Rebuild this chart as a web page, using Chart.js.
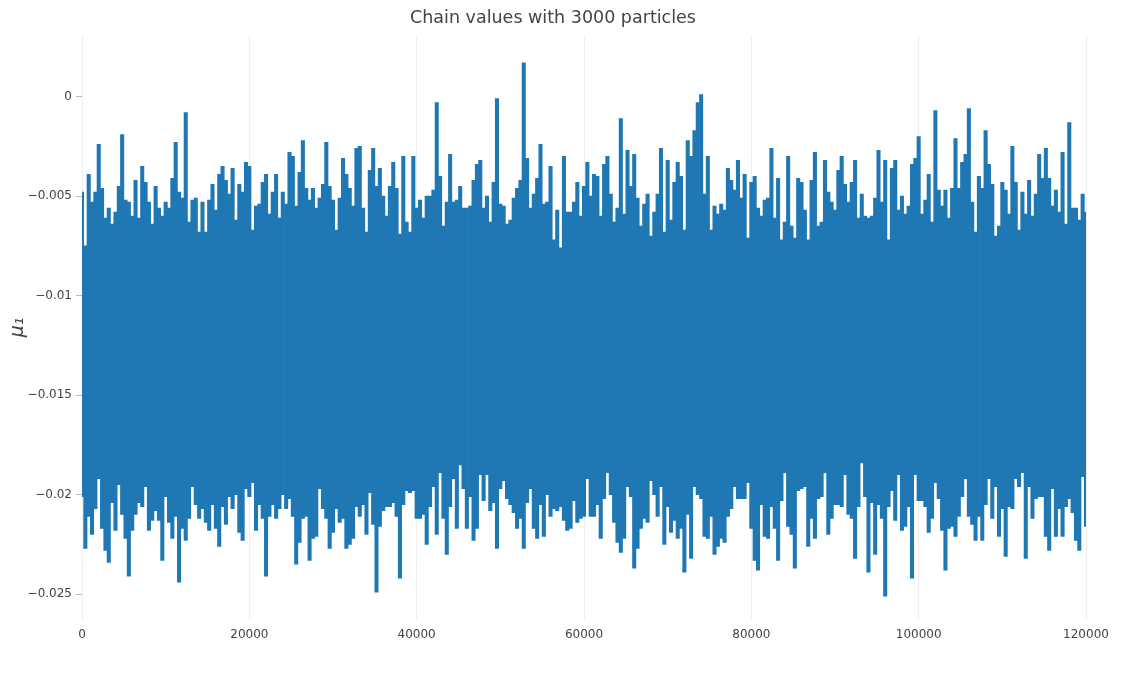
<!DOCTYPE html>
<html>
<head>
<meta charset="utf-8">
<script src="https://cdn.jsdelivr.net/npm/chart.js@4.4.1/dist/chart.umd.min.js"></script>
<style>
  html, body { margin: 0; padding: 0; background: #fff; }
  #wrap { width: 1133px; height: 681px; }
</style>
</head>
<body>
<div id="wrap"><canvas id="trace" width="1133" height="681"></canvas></div>
<script>
// iteration spacing between the read-off samples of the trace
const sampleStep = 400;

// highest value of the chain in each sample window, read left to right
const upperPeaks = [
  -0.0048, -0.0075, -0.0039, -0.0053, -0.0048, -0.0024, -0.0046, -0.0061, -0.0056, -0.0064,
  -0.0058, -0.0045, -0.0019, -0.0052, -0.0053, -0.0060, -0.0042, -0.0061, -0.0035, -0.0043,
  -0.0053, -0.0064, -0.0045, -0.0056, -0.0060, -0.0053, -0.0056, -0.0041, -0.0023, -0.0048,
  -0.0051, -0.0008, -0.0063, -0.0052, -0.0051, -0.0068, -0.0053, -0.0068, -0.0052, -0.0044,
  -0.0057, -0.0039, -0.0035, -0.0042, -0.0049, -0.0036, -0.0062, -0.0044, -0.0048, -0.0033,
  -0.0035, -0.0067, -0.0055, -0.0054, -0.0043, -0.0039, -0.0059, -0.0048, -0.0039, -0.0061,
  -0.0048, -0.0054, -0.0028, -0.0030, -0.0055, -0.0038, -0.0022, -0.0046, -0.0052, -0.0046,
  -0.0056, -0.0051, -0.0044, -0.0023, -0.0045, -0.0052, -0.0067, -0.0051, -0.0031, -0.0039,
  -0.0046, -0.0055, -0.0026, -0.0025, -0.0056, -0.0068, -0.0037, -0.0026, -0.0045, -0.0036,
  -0.0050, -0.0060, -0.0045, -0.0033, -0.0046, -0.0069, -0.0030, -0.0063, -0.0068, -0.0030,
  -0.0056, -0.0052, -0.0061, -0.0050, -0.0050, -0.0047, -0.0003, -0.0040, -0.0065, -0.0053,
  -0.0029, -0.0053, -0.0052, -0.0045, -0.0056, -0.0056, -0.0055, -0.0042, -0.0034, -0.0032,
  -0.0056, -0.0050, -0.0063, -0.0043, -0.0001, -0.0054, -0.0055, -0.0064, -0.0062, -0.0051,
  -0.0046, -0.0042, 0.0017, -0.0031, -0.0056, -0.0049, -0.0041, -0.0024, -0.0054, -0.0053,
  -0.0035, -0.0072, -0.0057, -0.0076, -0.0030, -0.0058, -0.0058, -0.0053, -0.0043, -0.0060,
  -0.0045, -0.0033, -0.0050, -0.0039, -0.0040, -0.0060, -0.0034, -0.0030, -0.0049, -0.0063,
  -0.0056, -0.0011, -0.0059, -0.0027, -0.0045, -0.0029, -0.0051, -0.0065, -0.0054, -0.0049,
  -0.0070, -0.0058, -0.0049, -0.0026, -0.0068, -0.0032, -0.0062, -0.0043, -0.0033, -0.0040,
  -0.0067, -0.0022, -0.0030, -0.0017, -0.0003, 0.0001, -0.0049, -0.0030, -0.0067, -0.0055,
  -0.0059, -0.0054, -0.0057, -0.0036, -0.0042, -0.0047, -0.0032, -0.0051, -0.0039, -0.0071,
  -0.0043, -0.0040, -0.0056, -0.0060, -0.0052, -0.0051, -0.0026, -0.0061, -0.0041, -0.0072,
  -0.0063, -0.0030, -0.0065, -0.0071, -0.0041, -0.0043, -0.0057, -0.0072, -0.0042, -0.0028,
  -0.0065, -0.0063, -0.0032, -0.0048, -0.0053, -0.0057, -0.0037, -0.0030, -0.0044, -0.0053,
  -0.0043, -0.0032, -0.0061, -0.0049, -0.0060, -0.0061, -0.0060, -0.0051, -0.0027, -0.0053,
  -0.0032, -0.0072, -0.0036, -0.0032, -0.0057, -0.0050, -0.0059, -0.0055, -0.0034, -0.0031,
  -0.0020, -0.0059, -0.0052, -0.0039, -0.0063, -0.0007, -0.0047, -0.0055, -0.0047, -0.0061,
  -0.0046, -0.0021, -0.0046, -0.0033, -0.0029, -0.0006, -0.0053, -0.0068, -0.0040, -0.0046,
  -0.0017, -0.0034, -0.0044, -0.0070, -0.0065, -0.0043, -0.0047, -0.0059, -0.0025, -0.0043,
  -0.0067, -0.0048, -0.0059, -0.0042, -0.0060, -0.0049, -0.0029, -0.0041, -0.0026, -0.0041,
  -0.0055, -0.0047, -0.0058, -0.0028, -0.0064, -0.0013, -0.0056, -0.0056, -0.0062, -0.0049,
  -0.0058
];

// lowest value of the chain in each sample window, read left to right
const lowerPeaks = [
  -0.0201, -0.0227, -0.0211, -0.0220, -0.0207, -0.0192, -0.0217, -0.0228, -0.0234, -0.0204,
  -0.0218, -0.0195, -0.0210, -0.0222, -0.0241, -0.0218, -0.0210, -0.0204, -0.0206, -0.0196,
  -0.0218, -0.0213, -0.0208, -0.0213, -0.0233, -0.0201, -0.0214, -0.0222, -0.0211, -0.0244,
  -0.0217, -0.0223, -0.0212, -0.0196, -0.0205, -0.0212, -0.0207, -0.0214, -0.0218, -0.0205,
  -0.0217, -0.0226, -0.0206, -0.0215, -0.0201, -0.0207, -0.0200, -0.0219, -0.0223, -0.0197,
  -0.0201, -0.0194, -0.0218, -0.0205, -0.0212, -0.0241, -0.0211, -0.0205, -0.0212, -0.0207,
  -0.0200, -0.0207, -0.0202, -0.0211, -0.0235, -0.0224, -0.0212, -0.0211, -0.0233, -0.0222,
  -0.0221, -0.0197, -0.0207, -0.0212, -0.0227, -0.0219, -0.0207, -0.0214, -0.0212, -0.0227,
  -0.0225, -0.0222, -0.0206, -0.0211, -0.0205, -0.0220, -0.0199, -0.0215, -0.0249, -0.0216,
  -0.0208, -0.0206, -0.0206, -0.0204, -0.0211, -0.0242, -0.0205, -0.0198, -0.0199, -0.0198,
  -0.0212, -0.0212, -0.0210, -0.0225, -0.0206, -0.0196, -0.0220, -0.0189, -0.0212, -0.0230,
  -0.0206, -0.0192, -0.0217, -0.0185, -0.0197, -0.0217, -0.0201, -0.0223, -0.0217, -0.0190,
  -0.0203, -0.0190, -0.0208, -0.0204, -0.0227, -0.0197, -0.0193, -0.0202, -0.0205, -0.0209,
  -0.0217, -0.0212, -0.0227, -0.0204, -0.0197, -0.0217, -0.0222, -0.0205, -0.0221, -0.0200,
  -0.0211, -0.0207, -0.0208, -0.0206, -0.0213, -0.0218, -0.0217, -0.0203, -0.0214, -0.0212,
  -0.0211, -0.0192, -0.0211, -0.0211, -0.0205, -0.0222, -0.0202, -0.0189, -0.0200, -0.0214,
  -0.0224, -0.0229, -0.0222, -0.0196, -0.0201, -0.0237, -0.0227, -0.0217, -0.0212, -0.0214,
  -0.0193, -0.0200, -0.0211, -0.0196, -0.0225, -0.0206, -0.0219, -0.0213, -0.0222, -0.0217,
  -0.0239, -0.0210, -0.0232, -0.0196, -0.0200, -0.0202, -0.0221, -0.0222, -0.0211, -0.0230,
  -0.0226, -0.0222, -0.0224, -0.0211, -0.0207, -0.0196, -0.0202, -0.0202, -0.0202, -0.0194,
  -0.0217, -0.0233, -0.0238, -0.0205, -0.0221, -0.0222, -0.0206, -0.0217, -0.0233, -0.0203,
  -0.0189, -0.0216, -0.0220, -0.0237, -0.0198, -0.0197, -0.0196, -0.0226, -0.0212, -0.0222,
  -0.0202, -0.0201, -0.0189, -0.0220, -0.0212, -0.0205, -0.0205, -0.0206, -0.0190, -0.0210,
  -0.0212, -0.0232, -0.0206, -0.0184, -0.0201, -0.0239, -0.0204, -0.0230, -0.0205, -0.0212,
  -0.0251, -0.0206, -0.0198, -0.0213, -0.0190, -0.0218, -0.0216, -0.0206, -0.0242, -0.0190,
  -0.0203, -0.0203, -0.0206, -0.0219, -0.0212, -0.0194, -0.0202, -0.0218, -0.0238, -0.0217,
  -0.0216, -0.0221, -0.0211, -0.0201, -0.0192, -0.0211, -0.0215, -0.0223, -0.0211, -0.0223,
  -0.0205, -0.0192, -0.0212, -0.0196, -0.0221, -0.0207, -0.0231, -0.0206, -0.0207, -0.0192,
  -0.0196, -0.0189, -0.0232, -0.0196, -0.0212, -0.0202, -0.0201, -0.0201, -0.0221, -0.0228,
  -0.0197, -0.0221, -0.0207, -0.0221, -0.0206, -0.0202, -0.0209, -0.0223, -0.0228, -0.0191,
  -0.0216
];

const xTicks = [0, 20000, 40000, 60000, 80000, 100000, 120000];
const xTickLabels = ['0', '20000', '40000', '60000', '80000', '100000', '120000'];
const yTicks = [0, -0.005, -0.01, -0.015, -0.02, -0.025];
const yTickLabels = ['0', '\u22120.005', '\u22120.01', '\u22120.015', '\u22120.02', '\u22120.025'];

// each window of the chain is drawn as the span it covers, low to high
let spans = upperPeaks.map((v, i) => ({ x: i * sampleStep, y: [lowerPeaks[i], v] }));

Chart.defaults.font.family = '"DejaVu Sans", sans-serif';
Chart.defaults.color = '#444';

let ctx = document.querySelector('#trace');

const myChart = new Chart(ctx, {
  type: 'bar',
  data: {
    datasets: [{
      data: spans,
      backgroundColor: '#1f77b4',
      borderWidth: 0,
      barThickness: 3.4,
      grouped: false
    }]
  },
  options: {
    responsive: false,
    animation: false,
    layout: { padding: { left: 20, right: 47, top: 0, bottom: 26 } },
    plugins: {
      legend: { display: false },
      tooltip: { enabled: false },
      title: {
        display: true,
        text: 'Chain values with 3000 particles',
        color: '#444',
        font: { size: 17.5, weight: 'normal' },
        padding: { top: 8, bottom: 6 }
      }
    },
    scales: {
      x: {
        type: 'linear',
        min: 0,
        max: 120000,
        offset: false,
        afterBuildTicks: (scale) => { scale.ticks = xTicks.map(v => ({ value: v })); },
        afterFit: (scale) => { scale.height = 35; },
        ticks: {
          maxRotation: 0,
          padding: 8,
          font: { size: 12 },
          color: '#444',
          callback: (value) => xTickLabels[xTicks.indexOf(value)]
        },
        grid: { color: '#eeeeee', lineWidth: 1, drawTicks: false, offset: false },
        border: { display: false }
      },
      y: {
        type: 'linear',
        min: -0.0263,
        max: 0.0031,
        afterBuildTicks: (scale) => { scale.ticks = yTicks.map(v => ({ value: v })); },
        afterFit: (scale) => { scale.width = 62; },
        ticks: {
          padding: 4,
          font: { size: 12 },
          color: '#444',
          callback: (value) => yTickLabels[yTicks.indexOf(value)]
        },
        grid: {
          drawOnChartArea: false,
          drawTicks: true,
          tickLength: 6,
          tickColor: '#bbbbbb',
          offset: false
        },
        border: { display: false },
        title: {
          display: true,
          text: '\u03bc\u2081',
          color: '#444',
          font: { size: 19, style: 'italic' },
          padding: { top: -13, bottom: 0 }
        }
      }
    }
  }
});
</script>
</body>
</html>
